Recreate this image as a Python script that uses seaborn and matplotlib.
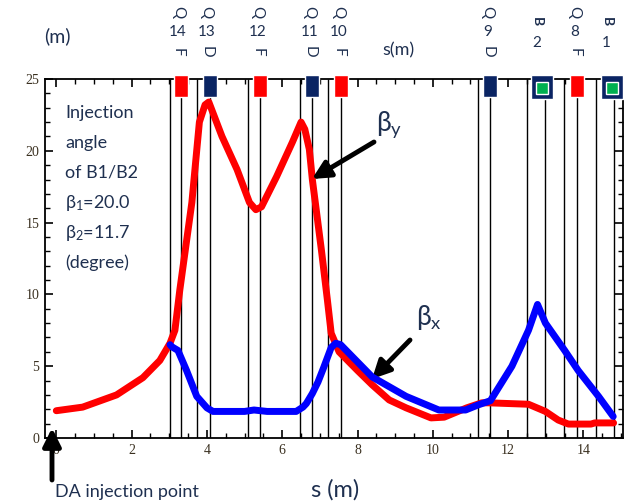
import matplotlib
matplotlib.use("Agg")
import matplotlib.pyplot as plt
import seaborn as sns

# beta_y (red)
s_y = [0, 0.7, 1.6, 2.3, 2.75, 3.02, 3.15, 3.28, 3.6, 3.8, 3.95, 4.05, 4.4,
       4.8, 5.13, 5.3, 5.45, 5.85, 6.27, 6.5, 6.6, 6.72, 6.8, 7.04, 7.2, 7.3,
       7.51, 8.0, 8.39, 8.84, 9.29, 9.95, 10.3, 10.9, 11.3, 11.48, 12.54,
       12.99, 13.33, 13.6, 14.2, 14.3, 14.8]
beta_y = [1.9, 2.15, 3.0, 4.2, 5.4, 6.6, 7.5, 10.3, 16.4, 22.0, 23.2, 23.4,
          21.0, 18.7, 16.4, 15.9, 16.1, 18.2, 20.6, 22.0, 21.5, 20.1, 18.0,
          13.1, 9.6, 7.3, 6.0, 4.7, 3.7, 2.65, 2.1, 1.4, 1.45, 2.1, 2.45,
          2.45, 2.35, 1.85, 1.25, 0.97, 0.97, 1.05, 1.05]

# beta_x (blue)
s_x = [3.02, 3.07, 3.23, 3.46, 3.73, 4.0, 4.16, 5.0, 5.25, 5.6, 6.37, 6.55,
       6.64, 6.8, 6.95, 7.1, 7.2, 7.3, 7.42, 7.55, 8.39, 9.29, 10.16, 10.87,
       11.2, 11.53, 12.1, 12.54, 12.78, 12.99, 13.5, 13.86, 14.4, 14.79]
beta_x = [6.5, 6.35, 6.1, 4.7, 2.9, 2.1, 1.85, 1.85, 1.95, 1.85, 1.85, 2.15,
          2.4, 3.1, 3.9, 4.9, 5.6, 6.3, 6.6, 6.5, 4.25, 2.9, 1.95, 1.95, 2.3,
          2.6, 5.0, 7.5, 9.3, 8.0, 6.1, 4.7, 2.9, 1.5]

# magnet edges (vertical lines)
edges = [3.02, 3.31, 3.73, 4.07, 5.08, 5.42, 6.48, 6.8, 7.22, 7.57, 11.19,
         11.53, 12.49, 12.99, 13.49, 13.84, 14.34, 14.81]

# quadrupoles
quad_pos = [3.31, 4.07, 5.42, 6.8, 7.57, 11.53, 13.84]
quad_num = ["14", "13", "12", "11", "10", "9", "8"]
quad_type = ["F", "D", "F", "D", "F", "D", "F"]
# bending magnets
bend_pos = [12.9, 14.76]
bend_num = ["2", "1"]

RED = "#ff0000"
BLUE = "#0000ff"
NAVY = "#0a2463"
GREEN = "#00b050"
TXT = "#1f3050"
TICK = "#3a3020"

sns.set_theme(style="ticks")
plt.rcParams["font.family"] = ["Lato", "DejaVu Sans"]
plt.rcParams["mathtext.fontset"] = "custom"
plt.rcParams["mathtext.rm"] = "Lato"
plt.rcParams["mathtext.it"] = "Lato"

W, H = 633, 504
fig = plt.figure(figsize=(W / 100, H / 100), dpi=100)
ax = fig.add_axes([45 / W, 1 - 438 / H, (623 - 45) / W, (438 - 79) / H])


def px(x, y):
    return x / W, 1 - y / H


ax.vlines(edges, 0, 25, color="black", lw=1.0, zorder=1)

sns.lineplot(x=s_y, y=beta_y, color=RED, lw=5, sort=False, estimator=None,
             ax=ax, zorder=3, solid_joinstyle="round")
sns.lineplot(x=s_x, y=beta_x, color=BLUE, lw=5, sort=False, estimator=None,
             ax=ax, zorder=4, solid_joinstyle="round")

ax.set_xlim(-0.3, 15.05)
ax.set_ylim(0, 25)

# magnet markers along the top edge
quad_col = [RED if t == "F" else NAVY for t in quad_type]
ax.bar(quad_pos, 1.55, width=0.37, bottom=23.75, color=quad_col,
       clip_on=False, zorder=5)
ax.bar(bend_pos, 1.7, width=0.58, bottom=23.6, color=NAVY,
       clip_on=False, zorder=5)
ax.bar(bend_pos, 0.85, width=0.3, bottom=23.95, color=GREEN,
       clip_on=False, zorder=6)

# labels above the magnets
trans = ax.get_xaxis_transform()
for p, n, t in zip(quad_pos, quad_num, quad_type):
    xx = p - 0.08
    ax.text(xx, 1.186, "Q", rotation=-90, ha="center", va="center",
            fontsize=11, color=TXT, transform=trans)
    ax.text(xx, 1.13, n, ha="center", va="center", fontsize=11,
            color=TXT, transform=trans)
    ax.text(xx, 1.075, t, rotation=-90, ha="center", va="center",
            fontsize=11, color=TXT, transform=trans)
for p, n in zip(bend_pos, bend_num):
    xx = p - 0.15
    ax.text(xx, 1.16, "B", rotation=-90, ha="center", va="center",
            fontsize=10, color=TXT, fontweight="bold", transform=trans)
    ax.text(xx, 1.1, n, ha="center", va="center", fontsize=11,
            color=TXT, transform=trans)

ax.set_xticks(range(0, 15, 2))
ax.set_yticks(range(0, 26, 5))
ax.set_xticks([i * 0.5 for i in range(0, 31)], minor=True)
ax.set_yticks(range(0, 26), minor=True)
ax.tick_params(which="both", direction="in", top=True, right=True,
               color="black")
ax.tick_params(which="major", length=6, width=1.2, labelsize=10,
               labelcolor=TICK, pad=4)
ax.tick_params(which="minor", length=3.5, width=1)
for lab in ax.get_xticklabels() + ax.get_yticklabels():
    lab.set_fontfamily("Liberation Serif")
for sp in ax.spines.values():
    sp.set_color("black")
    sp.set_linewidth(1.3)
ax.set_xlabel("")
ax.set_ylabel("")

# annotation text
lines = ["Injection", "angle", "of B1/B2", r"β$_1$=20.0", r"β$_2$=11.7",
         "(degree)"]
for i, t in enumerate(lines):
    fig.text(*px(65, 113 + 30 * i), t, fontsize=13, color=TXT,
             ha="left", va="center")

fig.text(*px(57, 36), "(m)", fontsize=14, color=TXT, ha="center",
         va="center")
fig.text(*px(398, 50), "s(m)", fontsize=13, color=TXT, ha="center",
         va="center")
fig.text(*px(335, 490), "s (m)", fontsize=17, color=TXT, ha="center",
         va="center")
fig.text(*px(55, 492), "DA injection point", fontsize=13, color=TXT,
         ha="left", va="center")
fig.text(*px(389, 125), r"β$_\mathrm{y}$", fontsize=19, color=TXT,
         ha="center", va="center")
fig.text(*px(429, 317), r"β$_\mathrm{x}$", fontsize=19, color=TXT,
         ha="center", va="center")

arrow = dict(arrowstyle="-|>,head_length=0.9,head_width=0.45", color="black",
             lw=3.5, shrinkA=0, shrinkB=0)
ax.annotate("", xy=px(312, 179), xytext=px(374, 142), xycoords="figure fraction",
            textcoords="figure fraction", arrowprops=arrow)
ax.annotate("", xy=px(372, 379), xytext=px(410, 340), xycoords="figure fraction",
            textcoords="figure fraction", arrowprops=arrow)
ax.annotate("", xy=px(52, 428), xytext=px(52, 480), xycoords="figure fraction",
            textcoords="figure fraction", arrowprops=arrow)

fig.savefig("out.png", dpi=100)
